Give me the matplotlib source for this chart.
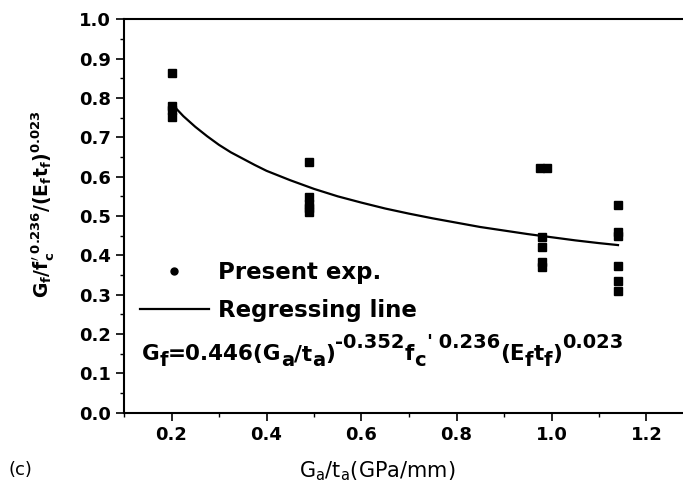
import numpy as np
import matplotlib
matplotlib.use('Agg')
import matplotlib.pyplot as plt
from matplotlib.lines import Line2D

plt.rcParams['font.family'] = 'DejaVu Sans'
plt.rcParams['mathtext.fontset'] = 'dejavusans'

# measured points, grouped by Ga/ta value
ga_ta = [0.2, 0.2, 0.2, 0.2,
         0.49, 0.49, 0.49, 0.49, 0.49,
         0.975, 0.99, 0.98, 0.98, 0.98, 0.98,
         1.14, 1.14, 1.14, 1.14, 1.14, 1.14]
gf_norm = [0.865, 0.78, 0.77, 0.753,
           0.638, 0.549, 0.53, 0.52, 0.511,
           0.621, 0.621, 0.447, 0.422, 0.384, 0.371,
           0.528, 0.46, 0.448, 0.373, 0.334, 0.309]

# regression curve
line_x = [0.2, 0.225, 0.25, 0.275, 0.3, 0.325, 0.35, 0.375, 0.4, 0.45, 0.5,
          0.55, 0.6, 0.65, 0.7, 0.75, 0.8, 0.85, 0.9, 0.95, 1.0, 1.05,
          1.1, 1.14]
line_y = [0.786, 0.754, 0.727, 0.703, 0.681, 0.662, 0.646, 0.630, 0.615,
          0.591, 0.569, 0.550, 0.534, 0.519, 0.506, 0.494, 0.483, 0.472,
          0.463, 0.454, 0.446, 0.438, 0.431, 0.426]

x_ticks = [0.2, 0.4, 0.6, 0.8, 1.0, 1.2]
y_ticks = [0.0, 0.1, 0.2, 0.3, 0.4, 0.5, 0.6, 0.7, 0.8, 0.9, 1.0]

# equation pieces: (text, level) with level 0 normal, -1 subscript, 1 superscript
eq_parts = [('G', 0), ('f', -1), ('=0.446(G', 0), ('a', -1), ('/t', 0),
            ('a', -1), (')', 0), ('-0.352', 1), ('f', 0), ('c', -1),
            ("'", 1), (' 0.236', 1), ('(E', 0), ('f', -1), ('t', 0),
            ('f', -1), (')', 0), ('0.023', 1)]

fig = plt.figure(figsize=(6.83, 4.92), dpi=100)
ax = fig.add_axes([124/683, (492-412.5)/492, 570/683, 393/492])

ax.plot(ga_ta, gf_norm, 's', color='k', ms=5.5, mec='k')
ax.plot(line_x, line_y, '-', color='k', lw=1.6)

ax.set_xlim(0.1, 1.3)
ax.set_ylim(0.0, 1.0)
ax.set_xticks(x_ticks)
ax.set_yticks(y_ticks)
ax.set_xticks(np.arange(0.1, 1.31, 0.1), minor=True)
ax.set_yticks(np.arange(0.05, 1.0, 0.1), minor=True)
ax.set_xticklabels(['%.1f' % v for v in x_ticks])
ax.set_yticklabels(['%.1f' % v for v in y_ticks])
ax.tick_params(which='major', direction='out', length=6, width=1.2,
               labelsize=13, top=False, right=False)
ax.tick_params(which='minor', direction='out', length=3, width=1.0,
               top=False, right=False)
for lab in ax.get_xticklabels() + ax.get_yticklabels():
    lab.set_fontweight('bold')
for sp in ax.spines.values():
    sp.set_linewidth(1.5)

ax.set_xlabel(r'$\mathrm{G_a/t_a(GPa/mm)}$', fontsize=15)
ax.xaxis.set_label_coords(0.444, -0.12)
ax.set_ylabel(r'$\mathbf{G_f/f_c^{\prime\ 0.236}/(E_ft_f)^{0.023}}$', fontsize=13.5)
ax.yaxis.set_label_coords(-0.119, 0.53)

handles = [Line2D([], [], marker='o', ls='none', color='k', ms=5),
           Line2D([], [], ls='-', color='k', lw=1.6)]
ax.legend(handles, ['Present exp.', 'Regressing line'], loc='center left',
          bbox_to_anchor=(0.028, 0.308), frameon=False, borderpad=0,
          borderaxespad=0, handlelength=3.0, handletextpad=0.42,
          labelspacing=0.65, prop={'size': 16.5, 'weight': 'bold'})

# equation written piece by piece so the scripts stay large
renderer = fig.canvas.get_renderer()
xpix, base = 141.5, 360.0
shift = {0: 0.0, -1: -6.5, 1: 12.0}
for s, lvl in eq_parts:
    size = 15.5 if lvl == 0 else 14
    t = fig.text(xpix/683, 1 - (base - shift[lvl])/492, s, fontsize=size,
                 fontweight='bold', va='baseline', ha='left')
    xpix += t.get_window_extent(renderer).width

fig.text(8/683, 1 - 470/492, '(c)', fontsize=13, va='center', ha='left')

fig.savefig('out.png', dpi=100)
